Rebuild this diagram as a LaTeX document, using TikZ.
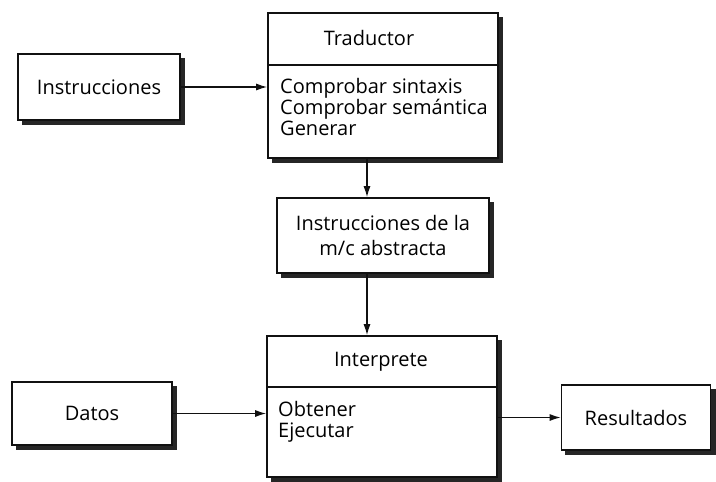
\documentclass[tikz,border=0pt]{standalone}
\usepackage{fontspec}
\setmainfont{Open Sans}
\usepackage{tikz}
\usetikzlibrary{arrows.meta,positioning,calc,backgrounds}
\usepackage{xcolor}
\definecolor{bxLine}{HTML}{111111}
\definecolor{bxShadow}{HTML}{262626}

\begin{document}
\begin{tikzpicture}[x=1pt, y=-1pt,
  box/.style={draw=bxLine, line width=1.6pt, fill=white, inner sep=0pt,
    font=\fontsize{20}{23}\selectfont, align=center},
  ttl/.style={font=\fontsize{20}{23}\selectfont, inner sep=0pt},
  lst/.style={font=\fontsize{20}{21}\selectfont, align=left, inner sep=0pt, anchor=north west},
  sep/.style={line width=1.4pt, bxLine},
  shd/.style={fill=bxShadow},
  arr/.style={-{Latex[length=11pt,width=7pt]}, line width=1.3pt, bxLine}]
\useasboundingbox (0,0) rectangle (716,482);

% ── entradas y salida ──
\node[box, minimum width=162pt, minimum height=66pt] (instr) at (99,87) {Instrucciones};
\node[box, minimum width=160pt, minimum height=63pt] (datos) at (92,413.5) {Datos};
\node[box, minimum width=149pt, minimum height=65pt] (result) at (636,417.5) {Resultados};

% ── traductor ──
\node[box, minimum width=230pt, minimum height=145pt] (trad) at (383,85.5) {};
\draw[sep] (trad.west |- 0,65) -- (trad.east |- 0,65);
\node[ttl] (tradT) at (369,38) {Traductor};
\node[lst] (tradL) at (280,78) {Comprobar sintaxis\\Comprobar semántica\\Generar};

% ── codigo intermedio ──
\node[box, minimum width=212pt, minimum height=75pt, font=\fontsize{20}{25}\selectfont] (mc) at (383,235.5)
  {Instrucciones de la\\m/c abstracta};

% ── interprete ──
\node[box, minimum width=230pt, minimum height=141pt] (interp) at (382,406.5) {};
\draw[sep] (interp.west |- 0,387) -- (interp.east |- 0,387);
\node[ttl] (interpT) at (381,362) {Interprete};
\node[lst] (interpL) at (278,401) {Obtener\\Ejecutar};

% sombras de las cajas
\begin{scope}[on background layer]
\foreach \b in {instr,datos,result,trad,mc,interp}
  {\fill[shd] ([shift={(4.5pt,-4.5pt)}]\b.south west) rectangle ([shift={(4.5pt,-4.5pt)}]\b.north east);}
\end{scope}

% ── conexiones ──
\draw[arr] (instr.east) -- (instr.east -| trad.west);
\draw[arr] ([xshift=-16pt]trad.south) -- ([xshift=-16pt]trad.south |- mc.north);
\draw[arr] ([xshift=-16pt]mc.south) -- ([xshift=-16pt]mc.south |- interp.north);
\draw[arr] (datos.east) -- (datos.east -| interp.west);
\draw[arr] (result.west -| interp.east) -- (result.west);
\end{tikzpicture}
\end{document}
